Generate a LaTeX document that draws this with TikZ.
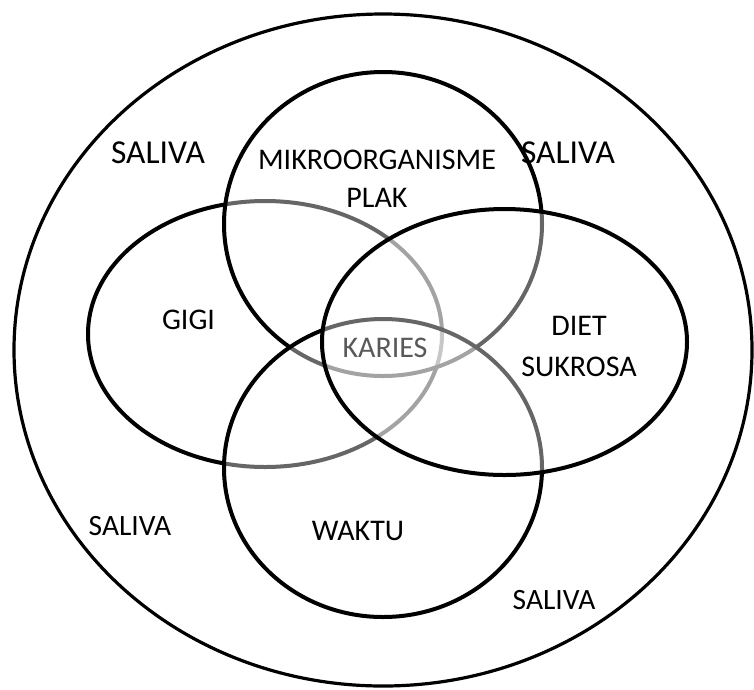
\documentclass[tikz,border=0pt]{standalone}
\usepackage{fontspec}
\setmainfont{Carlito}
\usepackage{tikz}
\usetikzlibrary{positioning}
\tikzstyle{lingkaran} = [line width=4pt, draw=black, fill=white, fill opacity=0.4]
\tikzstyle{luar} = [line width=3.2pt, draw=black]
\tikzstyle{teks} = [font=\fontsize{30}{34}\selectfont, align=center, inner sep=0pt]
\tikzstyle{saliva} = [teks, font=\fontsize{33.5}{38}\selectfont]
\tikzstyle{salivakecil} = [teks, font=\fontsize{29.5}{34}\selectfont]

\begin{document}
\begin{tikzpicture}[x=1pt, y=-1pt]
    \useasboundingbox (0,0) rectangle (754,689);

    % Lingkaran luar (saliva)
    \draw [luar] (383,350) ellipse [x radius=369pt, y radius=336pt];

    % Faktor penyebab
    \draw [lingkaran] (265,334) ellipse [x radius=177pt, y radius=133pt];
    \draw [lingkaran] (383,224) ellipse [x radius=159pt, y radius=152pt];
    \draw [lingkaran] (383,468) ellipse [x radius=159pt, y radius=149pt];
    \draw [lingkaran] (504.5,342) ellipse [x radius=182.5pt, y radius=133pt];

    % Label
    \node (mikro) [teks] at (377,160) {MIKROORGANISME};
    \node (plak) [teks, below=18pt of mikro] {PLAK};
    \node (gigi) [teks] at (188.5,320) {GIGI};
    \node (diet) [teks] at (579,326) {DIET};
    \node (sukrosa) [teks, below=21pt of diet] {SUKROSA};
    \node (waktu) [teks] at (358,531) {WAKTU};
    \node (karies) [teks, text=black!65] at (385,347.5) {KARIES};

    % Saliva
    \node (saliva1) [saliva] at (158,153) {SALIVA};
    \node (saliva2) [saliva] at (568,153) {SALIVA};
    \node (saliva3) [salivakecil] at (130,526) {SALIVA};
    \node (saliva4) [salivakecil] at (554,600) {SALIVA};
\end{tikzpicture}
\end{document}
